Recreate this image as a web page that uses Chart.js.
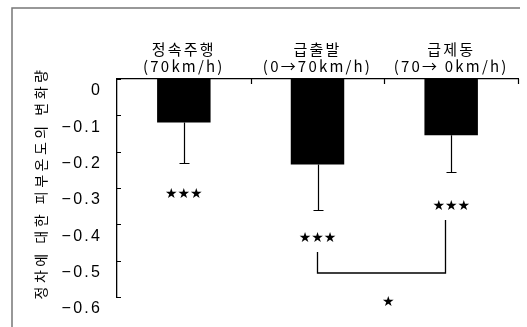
<!DOCTYPE html>
<html>
<head>
<meta charset="utf-8">
<script src="https://cdn.jsdelivr.net/npm/chart.js@4/dist/chart.umd.min.js"></script>
<style>
  html, body { margin: 0; padding: 0; background: #fff; }
  #wrap { width: 527px; height: 327px; }
</style>
</head>
<body>
<div id="wrap"><canvas id="c" width="527" height="327"></canvas></div>
<script>
// Skin temperature change per driving condition
const categories = [['정속주행', '(70km/h)'], ['급출발', '(0→70km/h)'], ['급제동', '(70→ 0km/h)']];
const meanChange = [-0.12, -0.235, -0.155];
const errorSpread = [0.11, 0.125, 0.1];
const tickValues = [0, -0.1, -0.2, -0.3, -0.4, -0.5, -0.6];
const tickLabels = ['0', '−0.1', '−0.2', '−0.3', '−0.4', '−0.5', '−0.6'];
const axisTitle = '정차에 대한 피부온도의 변화량';

// significance marks, placed in data coordinates
const markSpec = {
  perBar: [
    { index: 0, y: -0.317, stars: 3 },
    { index: 1, y: -0.438, stars: 3 },
    { index: 2, y: -0.350, stars: 3 }
  ],
  bracket: { from: 1, to: 2, fromTop: -0.476, toTop: -0.388, base: -0.534 },
  between: { index: 1.53, y: -0.614, stars: 1 }
};

const decorations = {
  id: 'decorations',
  beforeDraw(chart) {
    chart.ctx.letterSpacing = '2.2px';
  },
  afterDatasetsDraw(chart) {
    const ctx = chart.ctx;
    const y = chart.scales.y;
    const meta = chart.getDatasetMeta(0);
    ctx.save();
    ctx.strokeStyle = '#000';
    ctx.lineWidth = 1.2;
    meta.data.forEach((bar, i) => {
      const px = Math.round(bar.x) + 0.5;
      const y0 = y.getPixelForValue(meanChange[i]);
      const y1 = Math.round(y.getPixelForValue(meanChange[i] - errorSpread[i])) + 0.5;
      ctx.beginPath();
      ctx.moveTo(px, y0); ctx.lineTo(px, y1);
      ctx.moveTo(px - 5, y1); ctx.lineTo(px + 5, y1);
      ctx.stroke();
    });
    ctx.restore();
  },
  afterDraw(chart) {
    const ctx = chart.ctx;
    const x = chart.scales.x, y = chart.scales.y;
    const area = chart.chartArea;
    ctx.save();
    ctx.letterSpacing = '0px';

    // outer frame (top and left edges)
    ctx.strokeStyle = '#777';
    ctx.lineWidth = 1.5;
    ctx.beginPath();
    ctx.moveTo(12, 327); ctx.lineTo(12, 8); ctx.lineTo(520, 8);
    ctx.stroke();

    // inward ticks on the value axis
    ctx.strokeStyle = '#000';
    ctx.lineWidth = 1.2;
    ctx.beginPath();
    tickValues.forEach(v => {
      const py = Math.round(y.getPixelForValue(v)) + 0.5;
      ctx.moveTo(area.left, py); ctx.lineTo(area.left + 4, py);
    });
    // category boundary ticks along the zero line
    const n = categories.length;
    const step = (area.right - area.left) / n;
    for (let i = 1; i <= n; i++) {
      const px = Math.round(area.left + i * step) + 0.5;
      ctx.moveTo(px, area.top); ctx.lineTo(px, area.top + 5);
    }
    ctx.stroke();

    // significance stars
    ctx.fillStyle = '#000';
    ctx.font = '14px "DejaVu Sans"';
    ctx.textAlign = 'center';
    ctx.textBaseline = 'middle';
    const stars = (cx, cy, count) => {
      for (let k = 0; k < count; k++) {
        ctx.fillText('★', cx + (k - (count - 1) / 2) * 12.5, cy);
      }
    };
    markSpec.perBar.forEach(m => stars(x.getPixelForValue(m.index), y.getPixelForValue(m.y), m.stars));
    stars(x.getPixelForValue(markSpec.between.index), y.getPixelForValue(markSpec.between.y), markSpec.between.stars);

    // comparison bracket
    const b = markSpec.bracket;
    const bx0 = Math.round(x.getPixelForValue(b.from)) - 0.5;
    const bx1 = Math.round(x.getPixelForValue(b.to)) - 5.5;
    ctx.lineWidth = 1.3;
    ctx.beginPath();
    ctx.moveTo(bx0, y.getPixelForValue(b.fromTop));
    ctx.lineTo(bx0, y.getPixelForValue(b.base));
    ctx.lineTo(bx1, y.getPixelForValue(b.base));
    ctx.lineTo(bx1, y.getPixelForValue(b.toTop));
    ctx.stroke();

    // value axis title, rotated
    ctx.translate(41, 183);
    ctx.rotate(-Math.PI / 2);
    ctx.letterSpacing = '3.5px';
    ctx.font = '14px "Noto Sans CJK KR"';
    ctx.fillText(axisTitle, 0, 0);
    ctx.restore();
  }
};

new Chart(document.getElementById('c'), {
  type: 'bar',
  data: {
    labels: categories,
    datasets: [{
      data: meanChange,
      backgroundColor: '#000',
      borderWidth: 0,
      barPercentage: 0.4,
      categoryPercentage: 1.0
    }]
  },
  options: {
    responsive: false,
    animation: false,
    devicePixelRatio: 1,
    layout: { padding: { left: 0, top: 0, right: 9, bottom: 30 } },
    plugins: { legend: { display: false }, tooltip: { enabled: false } },
    scales: {
      x: {
        position: 'top',
        offset: true,
        grid: { display: false, drawTicks: false },
        border: { display: true, color: '#000', width: 1.3 },
        ticks: {
          color: '#000',
          padding: 4,
          maxRotation: 0,
          font: { family: '"Noto Sans CJK KR"', size: 15, lineHeight: 1.15 }
        },
        afterFit(scale) { scale.height = 79; }
      },
      y: {
        min: -0.6,
        max: 0,
        afterBuildTicks(scale) { scale.ticks = tickValues.map(v => ({ value: v })); },
        grid: { display: false, drawTicks: false },
        border: { display: true, color: '#000', width: 1.3 },
        ticks: {
          color: '#000',
          padding: 15,
          labelOffset: 12,
          font: { family: '"Liberation Sans"', size: 16 },
          callback(value) {
            const i = tickValues.findIndex(t => Math.abs(t - value) < 1e-9);
            return i >= 0 ? tickLabels[i] : '';
          }
        },
        afterFit(scale) { scale.width = 117; }
      }
    }
  },
  plugins: [decorations]
});
</script>
</body>
</html>
